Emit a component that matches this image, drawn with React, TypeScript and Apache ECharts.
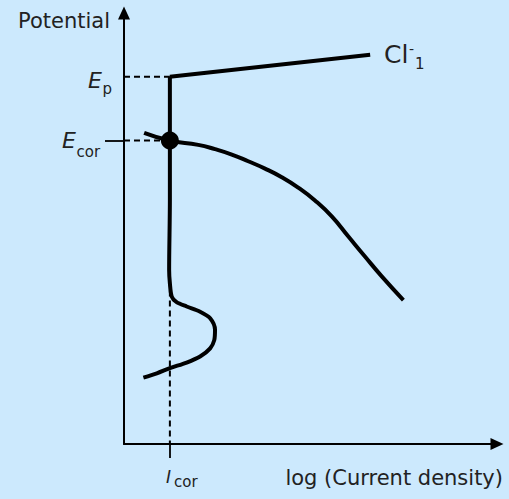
import React, { useEffect, useRef } from "react";
import * as echarts from "echarts";

// Key values (data units: x = log current density 0..100, y = potential 0..100)
const I_COR = 12.3;
const E_P = 85.2;
const E_COR = 70.4;

// Passive / pitting branch (Cl- line)
const pittingX = [I_COR, 66];
const pittingY = [E_P, 90.3];

// Anodic branch: vertical passive region and active loop
const anodicX = [12.3, 12.3, 12.1, 12.3, 12.8, 14.1, 16.8, 20.4, 23.1, 24.4, 24.2, 23.1, 20.4, 16.8, 12.3, 8.8, 5.2];
const anodicY = [85.2, 56.6, 40.4, 37.3, 34.2, 32.9, 31.9, 30.7, 29.2, 26.5, 24.1, 22.2, 20.3, 18.9, 17.6, 16.4, 15.4];

// Cathodic branch
const cathodicX = [5.4, 12.3, 19.9, 24.4, 28.9, 33.3, 37.8, 42.3, 46.7, 51.2, 55.7, 60.1, 64.6, 69.1, 74.9];
const cathodicY = [72.2, 70.4, 69.4, 68.4, 67.15, 65.6, 63.9, 61.9, 59.5, 56.5, 52.8, 48.2, 43.5, 38.9, 33.4];

const zip = (xs: number[], ys: number[]) => xs.map((x, i) => [x, ys[i]]);

const FONT = "DejaVu Sans";
const TEXT = "#222";

export default function App() {
  const ref = useRef<HTMLDivElement>(null);
  useEffect(() => {
    document.body.style.margin = "0";
    const chart = echarts.init(ref.current!, null, { renderer: "svg" });
    const dashed = { color: "#000", width: 2, type: [6, 4] as any };
    const solid = { color: "#000", width: 4 };
    chart.setOption({
      animation: false,
      backgroundColor: "#cce9fd",
      grid: { left: 124, right: 12, top: 13, bottom: 55 },
      xAxis: {
        type: "value",
        min: 0,
        max: 100,
        axisLine: {
          show: true,
          lineStyle: { color: "#000", width: 2 },
          symbol: ["none", "triangle"],
          symbolSize: [12, 13],
        },
        axisTick: { show: true, customValues: [I_COR], length: 14, lineStyle: { color: "#000", width: 1.8 } },
        axisLabel: { show: false },
        splitLine: { show: false },
      },
      yAxis: {
        type: "value",
        min: 0,
        max: 100,
        axisLine: {
          show: true,
          lineStyle: { color: "#000", width: 2 },
          symbol: ["none", "triangle"],
          symbolSize: [12, 13],
        },
        axisTick: { show: true, customValues: [E_COR], length: 19, lineStyle: { color: "#000", width: 1.8 } },
        axisLabel: { show: false },
        splitLine: { show: false },
      },
      series: [
        { type: "line", data: [[0, E_P], [I_COR, E_P]], symbol: "none", lineStyle: dashed },
        { type: "line", data: [[0, E_COR], [I_COR, E_COR]], symbol: "none", lineStyle: dashed },
        { type: "line", data: [[I_COR, E_COR], [I_COR, 0]], symbol: "none", lineStyle: dashed },
        { type: "line", data: zip(pittingX, pittingY), symbol: "none", lineStyle: solid },
        { type: "line", data: zip(anodicX, anodicY), symbol: "none", smooth: 0.3, lineStyle: solid },
        { type: "line", data: zip(cathodicX, cathodicY), symbol: "none", smooth: 0.5, lineStyle: solid },
        { type: "scatter", data: [[I_COR, E_COR]], symbol: "circle", symbolSize: 18, itemStyle: { color: "#000", opacity: 1 } },
      ],
      graphic: [
        { type: "text", x: 110, y: 21, style: { text: "Potential", font: `21px '${FONT}'`, fill: TEXT, align: "right", verticalAlign: "middle" } },
        { type: "text", x: 503, y: 478, style: { text: "log (Current density)", font: `21px '${FONT}'`, fill: TEXT, align: "right", verticalAlign: "middle" } },
        { type: "text", x: 88, y: 80.5, style: { text: "E", font: `italic 22px '${FONT}'`, fill: TEXT, align: "left", verticalAlign: "middle" } },
        { type: "text", x: 102.5, y: 88.5, style: { text: "p", font: `15px '${FONT}'`, fill: TEXT, align: "left", verticalAlign: "middle" } },
        { type: "text", x: 62, y: 140.5, style: { text: "E", font: `italic 22px '${FONT}'`, fill: TEXT, align: "left", verticalAlign: "middle" } },
        { type: "text", x: 76.5, y: 151.5, style: { text: "cor", font: `15px '${FONT}'`, fill: TEXT, align: "left", verticalAlign: "middle" } },
        { type: "text", x: 166, y: 476.5, style: { text: "I", font: `italic 17px '${FONT}'`, fill: TEXT, align: "left", verticalAlign: "middle" } },
        { type: "text", x: 174, y: 482, style: { text: "cor", font: `15px '${FONT}'`, fill: TEXT, align: "left", verticalAlign: "middle" } },
        { type: "text", x: 384, y: 54.5, style: { text: "Cl", font: `25px '${FONT}'`, fill: TEXT, align: "left", verticalAlign: "middle" } },
        { type: "text", x: 409, y: 49, style: { text: "-", font: `14px '${FONT}'`, fill: TEXT, align: "left", verticalAlign: "middle" } },
        { type: "text", x: 415, y: 63.5, style: { text: "1", font: `15px '${FONT}'`, fill: TEXT, align: "left", verticalAlign: "middle" } },
      ],
    });
    return () => chart.dispose();
  }, []);
  return <div ref={ref} style={{ position: "fixed", left: 0, top: 0, width: 509, height: 499 }} />;
}
